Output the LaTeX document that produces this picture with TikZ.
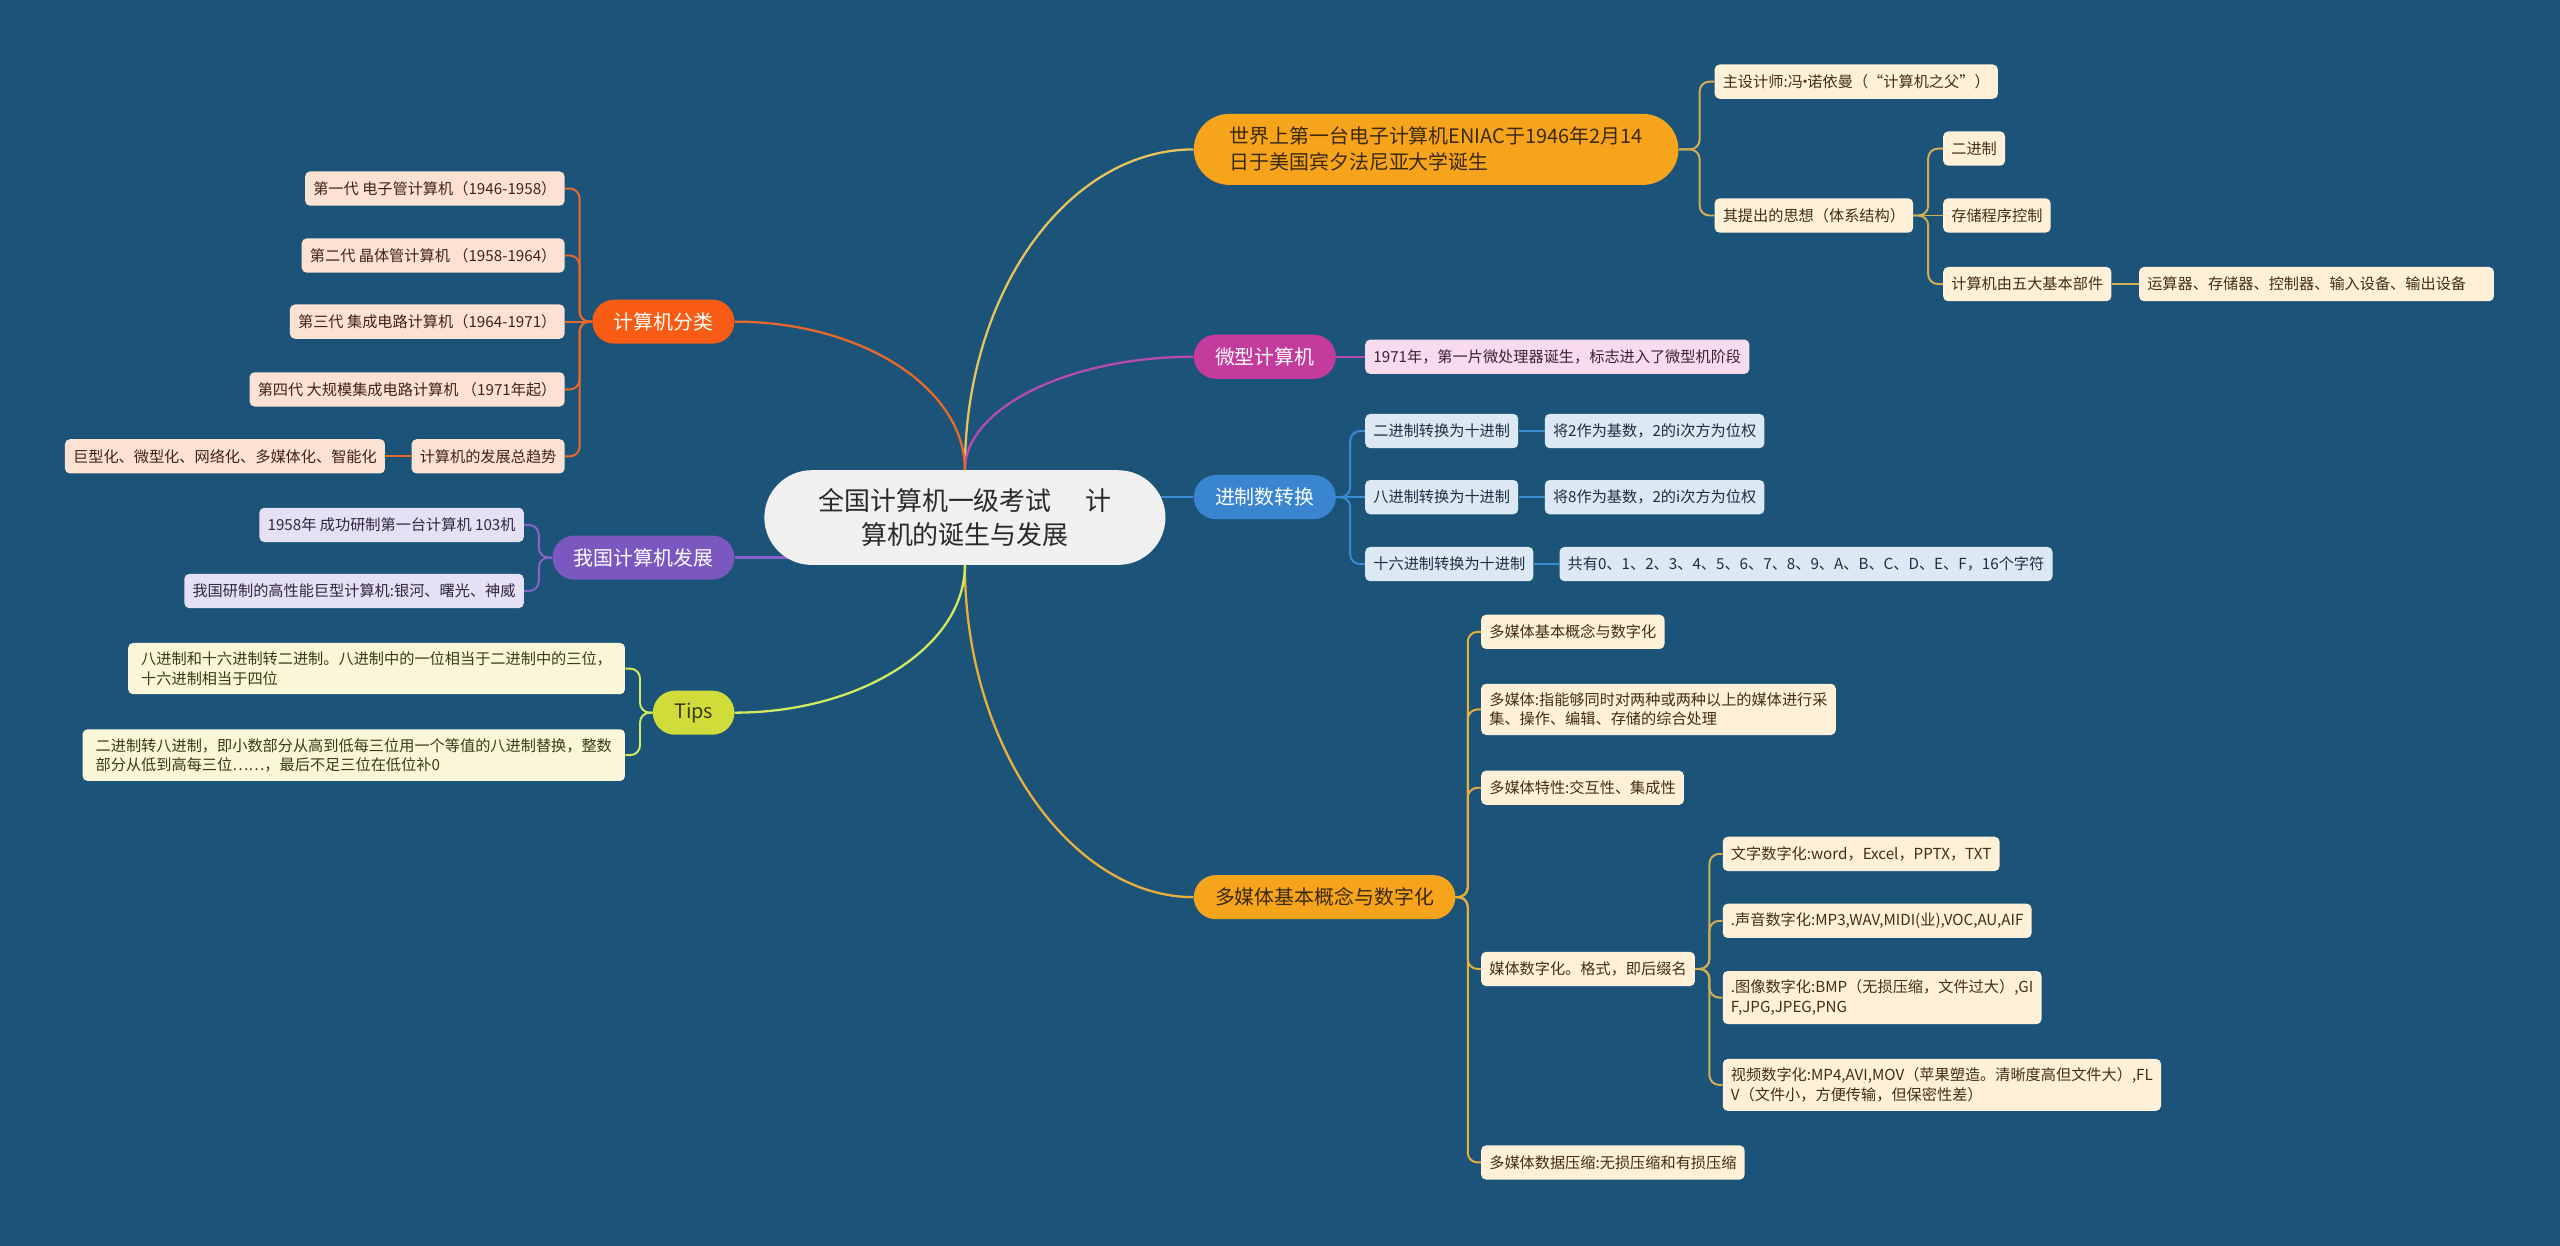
\documentclass[tikz,border=0pt]{standalone}
\usepackage{fontspec}
\setmainfont{Noto Sans CJK SC}
\usepackage{tikz}
\usetikzlibrary{backgrounds}

% colours
\definecolor{bgblue}{HTML}{1B5478}
\definecolor{rootfill}{HTML}{F0F0F0}
\definecolor{rootink}{HTML}{2A2A2A}
\definecolor{amber}{HTML}{F7A41D}
\definecolor{amberline}{HTML}{E9B03C}
\definecolor{amberink}{HTML}{3B2A0E}
\definecolor{paleline}{HTML}{E6C35C}
\definecolor{tanline}{HTML}{D4AE52}
\definecolor{cream}{HTML}{FFF0D8}
\definecolor{creamink}{HTML}{3E2F1A}
\definecolor{flame}{HTML}{F85C14}
\definecolor{flameline}{HTML}{E8692A}
\definecolor{peach}{HTML}{FCE2D2}
\definecolor{peachink}{HTML}{3E2418}
\definecolor{grape}{HTML}{7B57C0}
\definecolor{grapeline}{HTML}{8A63C8}
\definecolor{lilac}{HTML}{E6E0F4}
\definecolor{lilacink}{HTML}{2E2740}
\definecolor{rose}{HTML}{C33B9C}
\definecolor{roseline}{HTML}{B94AB0}
\definecolor{rosefill}{HTML}{F8DBEC}
\definecolor{roseink}{HTML}{3C1F33}
\definecolor{azure}{HTML}{3A85CF}
\definecolor{azureline}{HTML}{3A8AD4}
\definecolor{ice}{HTML}{DCE9F5}
\definecolor{iceink}{HTML}{1E2E40}
\definecolor{lime}{HTML}{D0DC3A}
\definecolor{limeline}{HTML}{D2EA62}
\definecolor{paleyellow}{HTML}{F9F7D8}
\definecolor{limeink}{HTML}{3A3A14}

\tikzset{
  root/.style={fill=rootfill, text=rootink, rounded corners=29pt, minimum height=58pt,
    inner xsep=33pt, align=center, font=\fontsize{15.9}{21.4}\selectfont},
  pill/.style={rounded corners=13.5pt, minimum height=27pt, inner xsep=13pt, inner ysep=3pt,
    font=\fontsize{12.2}{15.9}\selectfont},
  leaf/.style={rounded corners=3pt, minimum height=21pt, inner xsep=5pt, inner ysep=5.5pt,
    align=left, font=\fontsize{9.3}{11.8}\selectfont},
  goldleaf/.style={leaf, fill=cream, text=creamink},
  peachleaf/.style={leaf, fill=peach, text=peachink},
  lilacleaf/.style={leaf, fill=lilac, text=lilacink},
  iceleaf/.style={leaf, fill=ice, text=iceink},
  limeleaf/.style={leaf, fill=paleyellow, text=limeink, inner xsep=8pt},
  link/.style={line width=1.4pt},
  twig/.style={line width=1.2pt, rounded corners=6pt},
}

\begin{document}
\begin{tikzpicture}[x=1pt,y=-1pt]
\useasboundingbox (0,0) rectangle (1568,763);

% centre
\node[root] (root) at (591,317) {全国计算机一级考试\hspace{1.3em}计\\算机的诞生与发展};

% Right: ENIAC
\node[pill, fill=amber, text=amberink, rounded corners=21.75pt, minimum height=43.5pt,
  inner xsep=22pt, align=left, anchor=west] (eniac) at (731,91.5)
  {世界上第一台电子计算机ENIAC于1946年2月14\\日于美国宾夕法尼亚大学诞生};
\node[goldleaf, anchor=west] (father) at (1050,50)
  {主设计师:冯\hspace{-0.35em}·\hspace{-0.35em}诺依曼（“计算机之父”）};
\node[goldleaf, anchor=west] (idea) at (1050,132) {其提出的思想（体系结构）};
\node[goldleaf, anchor=west] (binary) at (1190,91) {二进制};
\node[goldleaf, anchor=west] (stored) at (1190,132) {存储程序控制};
\node[goldleaf, anchor=west] (parts) at (1190,174) {计算机由五大基本部件};
\node[goldleaf, anchor=west] (partlist) at (1310,174) {运算器、存储器、控制器、输入设备、输出设备\hspace*{12pt}};

% Right: micro computers
\node[pill, fill=rose, text=white, anchor=west] (micro) at (731,218.5) {微型计算机};
\node[leaf, fill=rosefill, text=roseink, anchor=west] (chip) at (836,218.5)
  {1971年，第一片微处理器诞生，标志进入了微型机阶段};

% Right: number bases
\node[pill, fill=azure, text=white, anchor=west] (radix) at (731,304.5) {进制数转换};
\node[iceleaf, anchor=west] (bintodec) at (836,264) {二进制转换为十进制};
\node[iceleaf, anchor=west] (bintodecw) at (946,264) {将2作为基数，2的i次方为位权};
\node[iceleaf, anchor=west] (octtodec) at (836,304.5) {八进制转换为十进制};
\node[iceleaf, anchor=west] (octtodecw) at (946,304.5) {将8作为基数，2的i次方为位权};
\node[iceleaf, anchor=west] (hextodec) at (836,345.5) {十六进制转换为十进制};
\node[iceleaf, anchor=west] (hextodecw) at (955,345.5)
  {共有0、1、2、3、4、5、6、7、8、9、A、B、C、D、E、F，16个字符};

% Right: multimedia
\node[pill, fill=amber, text=amberink, anchor=west] (media) at (731,549.5) {多媒体基本概念与数字化};
\node[goldleaf, anchor=west] (mconcept) at (907,387) {多媒体基本概念与数字化};
\node[goldleaf, anchor=west] (mdef) at (907,434.5)
  {多媒体:指能够同时对两种或两种以上的媒体进行采\\集、操作、编辑、存储的综合处理};
\node[goldleaf, anchor=west] (mtrait) at (907,482.5) {多媒体特性:交互性、集成性};
\node[goldleaf, anchor=west] (mdigit) at (907,593.5) {媒体数字化。格式，即后缀名};
\node[goldleaf, anchor=west] (mzip) at (907,712) {多媒体数据压缩:无损压缩和有损压缩};
\node[goldleaf, anchor=west] (ftext) at (1055,523) {文字数字化:word，Excel，PPTX，TXT};
\node[goldleaf, anchor=west] (fsound) at (1055,564) {.声音数字化:MP3,WAV,MIDI(业),VOC,AU,AIF};
\node[goldleaf, anchor=west] (fimage) at (1055,611)
  {.图像数字化:BMP（无损压缩，文件过大）,GI\\F,JPG,JPEG,PNG};
\node[goldleaf, anchor=west] (fvideo) at (1055,664.5)
  {视频数字化:MP4,AVI,MOV（苹果塑造。清晰度高但文件大）,FL\\V（文件小，方便传输，但保密性差）};

% Left: generations
\node[pill, fill=flame, text=white, anchor=east] (kinds) at (450,197) {计算机分类};
\node[peachleaf, anchor=east] (gen1) at (346,115.5) {第一代 电子管计算机（1946-1958）};
\node[peachleaf, anchor=east] (gen2) at (346,156.5) {第二代 晶体管计算机 （1958-1964）};
\node[peachleaf, anchor=east] (gen3) at (346,197) {第三代 集成电路计算机（1964-1971）};
\node[peachleaf, anchor=east] (gen4) at (346,238.5) {第四代 大规模集成电路计算机 （1971年起）};
\node[peachleaf, anchor=east] (trend) at (346,279.5) {计算机的发展总趋势};
\node[peachleaf, anchor=east] (trendw) at (236,279.5) {巨型化、微型化、网络化、多媒体化、智能化};

% Left: China
\node[pill, fill=grape, text=white, anchor=east] (china) at (450,341.5) {我国计算机发展};
\node[lilacleaf, anchor=east] (first) at (321,321.5) {1958年 成功研制第一台计算机 103机};
\node[lilacleaf, anchor=east] (super) at (321,362) {我国研制的高性能巨型计算机:银河、曙光、神威};

% Left: tips
\node[pill, fill=lime, text=limeink, anchor=east] (tips) at (450,436.5) {Tips};
\node[limeleaf, anchor=east] (tipa) at (383,409.5)
  {八进制和十六进制转二进制。八进制中的一位相当于二进制中的三位，\\十六进制相当于四位};
\node[limeleaf, anchor=east] (tipb) at (383,462.5)
  {二进制转八进制，即小数部分从高到低每三位用一个等值的八进制替换，整数\\部分从低到高每三位……，最后不足三位在低位补0};

\begin{pgfonlayer}{background}
\fill[bgblue] (0,0) rectangle (1568,763);

% main branches
\draw[link, paleline] (root.north) .. controls +(0,-108.5) and +(-77,0) .. (eniac.west);
\draw[link, roseline] (root.north) .. controls +(0,-38) and +(-76,0) .. (micro.west);
\draw[link, azureline] (radix.west) -- (radix.west -| root.center);
\draw[link, amberline] (root.south) .. controls +(0,112) and +(-74,0) .. (media.west);
\draw[link, flameline] (root.north) .. controls +(0,-50) and +(78,0) .. (kinds.east);
\draw[link, grapeline] (china.east) -- (china.east -| root.center);
\draw[link, limeline] (root.south) .. controls +(0,50) and +(77,0) .. (tips.east);

% sub branches
\foreach \c in {father,idea}
  \draw[twig, tanline] (\c.west) -- ++(-9,0) |- (eniac.east);
\foreach \c in {binary,parts}
  \draw[twig, tanline] (\c.west) -- ++(-9,0) |- (idea.east);
\draw[twig, tanline] (stored.west) -- (idea.east);
\draw[twig, tanline] (partlist.west) -- (parts.east);

\draw[twig, roseline] (chip.west) -- (micro.east);

\foreach \c in {bintodec,hextodec}
  \draw[twig, azureline] (\c.west) -- ++(-9,0) |- (radix.east);
\draw[twig, azureline] (octtodec.west) -- (radix.east);
\draw[twig, azureline] (bintodecw.west) -- (bintodec.east);
\draw[twig, azureline] (octtodecw.west) -- (octtodec.east);
\draw[twig, azureline] (hextodecw.west) -- (hextodec.east);

\foreach \c in {mconcept,mdef,mtrait,mdigit,mzip}
  \draw[twig, amberline] (\c.west) -- ++(-8,0) |- (media.east);
\foreach \c in {ftext,fsound,fimage,fvideo}
  \draw[twig, tanline] (\c.west) -- ++(-8,0) |- (mdigit.east);

\foreach \c in {gen1,gen2,gen4,trend}
  \draw[twig, flameline] (\c.east) -- ++(9,0) |- (kinds.west);
\draw[twig, flameline] (gen3.east) -- (kinds.west);
\draw[twig, flameline] (trendw.east) -- (trend.west);

\foreach \c in {first,super}
  \draw[twig, grapeline] (\c.east) -- ++(9,0) |- (china.west);

\foreach \c in {tipa,tipb}
  \draw[twig, limeline] (\c.east) -- ++(9,0) |- (tips.west);
\end{pgfonlayer}
\end{tikzpicture}
\end{document}
